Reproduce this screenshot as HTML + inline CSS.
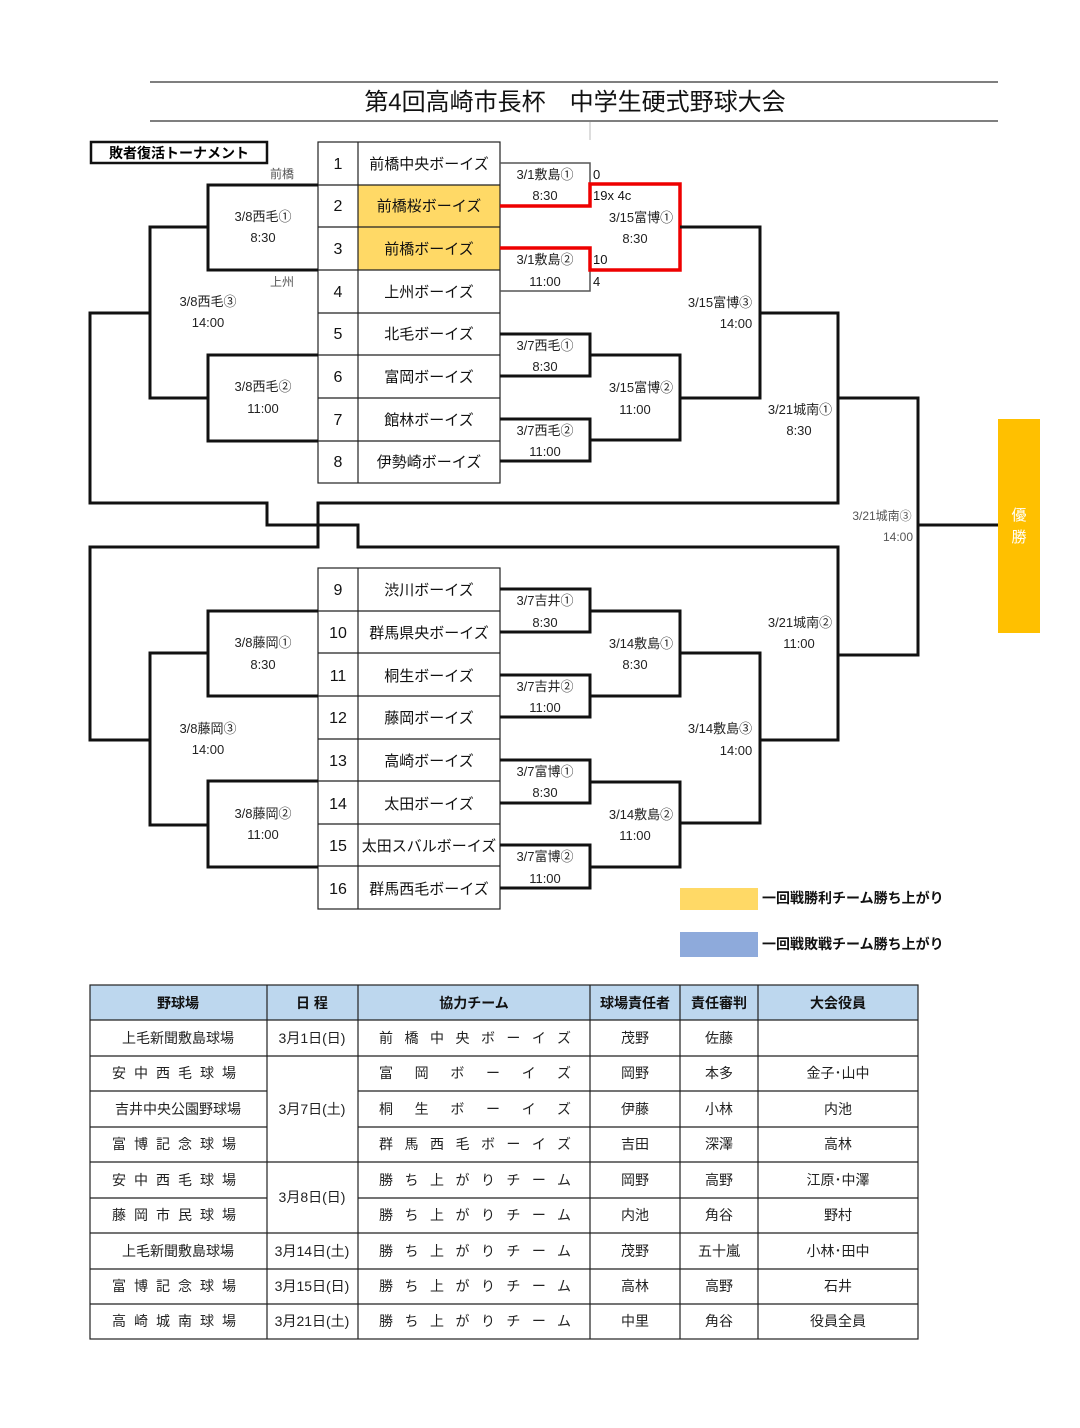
<!DOCTYPE html>
<html><head><meta charset="utf-8"><style>
html,body{margin:0;padding:0;background:#fff;}
svg{display:block;font-family:"Liberation Sans","Noto Sans CJK JP",sans-serif;}
</style></head><body>
<svg width="1080" height="1428" viewBox="0 0 1080 1428" xmlns="http://www.w3.org/2000/svg">
<rect width="1080" height="1428" fill="#fff"/>
<!-- title -->
<line x1="150" y1="82" x2="998" y2="82" stroke="#333" stroke-width="1.2"/>
<line x1="150" y1="121" x2="998" y2="121" stroke="#333" stroke-width="1.2"/>
<line x1="590" y1="122" x2="590" y2="140" stroke="#bbb" stroke-width="1"/>
<text x="575" y="110" font-size="24" text-anchor="middle" fill="#111">第4回高崎市長杯　中学生硬式野球大会</text>
<rect x="91" y="142" width="176" height="21" fill="#fff" stroke="#111" stroke-width="2.5"/>
<text x="179" y="158" font-size="14" font-weight="bold" text-anchor="middle">敗者復活トーナメント</text>

<!-- team table -->
<rect x="358" y="185" width="142" height="85" fill="#ffd966"/>
<g stroke="#222" stroke-width="1.2" fill="none">
<rect x="318" y="142" width="182" height="341"/>
<rect x="318" y="568" width="182" height="341"/>
<line x1="358" y1="142" x2="358" y2="483"/>
<line x1="358" y1="568" x2="358" y2="909"/>
<line x1="318" y1="185" x2="500" y2="185"/><line x1="318" y1="227" x2="500" y2="227"/>
<line x1="318" y1="270" x2="500" y2="270"/><line x1="318" y1="313" x2="500" y2="313"/>
<line x1="318" y1="355" x2="500" y2="355"/><line x1="318" y1="398" x2="500" y2="398"/>
<line x1="318" y1="441" x2="500" y2="441"/>
<line x1="318" y1="611" x2="500" y2="611"/><line x1="318" y1="653" x2="500" y2="653"/>
<line x1="318" y1="696" x2="500" y2="696"/><line x1="318" y1="739" x2="500" y2="739"/>
<line x1="318" y1="781" x2="500" y2="781"/><line x1="318" y1="824" x2="500" y2="824"/>
<line x1="318" y1="866" x2="500" y2="866"/>
</g>
<g font-size="16" text-anchor="middle" fill="#111">
<text x="338" y="169">1</text><text x="338" y="211">2</text><text x="338" y="254">3</text><text x="338" y="297">4</text>
<text x="338" y="339">5</text><text x="338" y="382">6</text><text x="338" y="425">7</text><text x="338" y="467">8</text>
<text x="338" y="595">9</text><text x="338" y="638">10</text><text x="338" y="681">11</text><text x="338" y="723">12</text>
<text x="338" y="766">13</text><text x="338" y="809">14</text><text x="338" y="851">15</text><text x="338" y="894">16</text>
</g>
<g font-size="15" text-anchor="middle" fill="#111">
<text x="429" y="169">前橋中央ボーイズ</text><text x="429" y="211">前橋桜ボーイズ</text><text x="429" y="254">前橋ボーイズ</text><text x="429" y="297">上州ボーイズ</text>
<text x="429" y="339">北毛ボーイズ</text><text x="429" y="382">富岡ボーイズ</text><text x="429" y="425">館林ボーイズ</text><text x="429" y="467">伊勢崎ボーイズ</text>
<text x="429" y="595">渋川ボーイズ</text><text x="429" y="638">群馬県央ボーイズ</text><text x="429" y="681">桐生ボーイズ</text><text x="429" y="723">藤岡ボーイズ</text>
<text x="429" y="766">高崎ボーイズ</text><text x="429" y="809">太田ボーイズ</text><text x="429" y="851">太田スバルボーイズ</text><text x="429" y="894">群馬西毛ボーイズ</text>
</g>

<!-- thin gray 3/1 brackets -->
<g stroke="#555" stroke-width="1.5" fill="none">
<polyline points="500,163 590,163 590,184"/>
<polyline points="590,270 590,291 500,291"/>
</g>
<!-- red -->
<g stroke="#e00" stroke-width="3.5" fill="none">
<polyline points="500,206 590,206 590,184 680,184 680,270 590,270 590,248 500,248"/>
</g>
<!-- black brackets -->
<g stroke="#111" stroke-width="3" fill="none">
<polyline points="680,227 760,227 760,398 680,398"/>
<polyline points="500,334 590,334 590,376 500,376"/>
<polyline points="500,419 590,419 590,461 500,461"/>
<polyline points="590,355 680,355 680,440 590,440"/>
<polyline points="760,313 838,313 838,503 318,503 318,547 90,547 90,740 150,740"/>
<polyline points="838,398 918,398 918,655 838,655"/>
<line x1="918" y1="525" x2="998" y2="525"/>
<polyline points="150,313 90,313 90,503 267,503 267,525 358,525 358,547 838,547 838,740 760,740"/>
<!-- left top -->
<polyline points="318,185 208,185 208,270 318,270"/>
<polyline points="318,355 208,355 208,441 318,441"/>
<polyline points="208,227 150,227 150,398 208,398"/>
<!-- bottom right -->
<polyline points="500,589 590,589 590,632 500,632"/>
<polyline points="500,675 590,675 590,717 500,717"/>
<polyline points="590,611 680,611 680,696 590,696"/>
<polyline points="500,760 590,760 590,803 500,803"/>
<polyline points="500,845 590,845 590,888 500,888"/>
<polyline points="590,782 680,782 680,867 590,867"/>
<polyline points="680,653 760,653 760,823 680,823"/>
<!-- bottom left -->
<polyline points="318,611 208,611 208,696 318,696"/>
<polyline points="318,781 208,781 208,867 318,867"/>
<polyline points="208,653 150,653 150,825 208,825"/>
</g>
<rect x="998" y="419" width="42" height="214" fill="#ffc000"/>
<text x="1019" y="520" font-size="15" text-anchor="middle" fill="#fff">優</text>
<text x="1019" y="542" font-size="15" text-anchor="middle" fill="#fff">勝</text>

<!-- labels -->
<g font-size="13" text-anchor="middle" fill="#222">
<text x="545" y="179">3/1敷島①</text><text x="545" y="200">8:30</text>
<text x="545" y="264">3/1敷島②</text><text x="545" y="286">11:00</text>
<text x="641" y="222">3/15富博①</text><text x="635" y="243">8:30</text>
<text x="720" y="307">3/15富博③</text><text x="736" y="328">14:00</text>
<text x="545" y="350">3/7西毛①</text><text x="545" y="371">8:30</text>
<text x="545" y="435">3/7西毛②</text><text x="545" y="456">11:00</text>
<text x="641" y="392">3/15富博②</text><text x="635" y="414">11:00</text>
<text x="800" y="414">3/21城南①</text><text x="799" y="435">8:30</text>
<text x="263" y="221">3/8西毛①</text><text x="263" y="242">8:30</text>
<text x="208" y="306">3/8西毛③</text><text x="208" y="327">14:00</text>
<text x="263" y="391">3/8西毛②</text><text x="263" y="413">11:00</text>
<text x="545" y="605">3/7吉井①</text><text x="545" y="627">8:30</text>
<text x="545" y="691">3/7吉井②</text><text x="545" y="712">11:00</text>
<text x="641" y="648">3/14敷島①</text><text x="635" y="669">8:30</text>
<text x="720" y="733">3/14敷島③</text><text x="736" y="755">14:00</text>
<text x="545" y="776">3/7富博①</text><text x="545" y="797">8:30</text>
<text x="545" y="861">3/7富博②</text><text x="545" y="883">11:00</text>
<text x="641" y="819">3/14敷島②</text><text x="635" y="840">11:00</text>
<text x="800" y="627">3/21城南②</text><text x="799" y="648">11:00</text>
<text x="263" y="647">3/8藤岡①</text><text x="263" y="669">8:30</text>
<text x="208" y="733">3/8藤岡③</text><text x="208" y="754">14:00</text>
<text x="263" y="818">3/8藤岡②</text><text x="263" y="839">11:00</text>
</g>
<g font-size="12" fill="#555">
<text x="882" y="520" text-anchor="middle">3/21城南③</text>
<text x="898" y="541" text-anchor="middle">14:00</text>
<text x="282" y="178" text-anchor="middle">前橋</text>
<text x="282" y="286" text-anchor="middle">上州</text>
</g>
<g font-size="13" fill="#111">
<text x="593" y="179">0</text><text x="593" y="200">19x 4c</text>
<text x="593" y="264">10</text><text x="593" y="286">4</text>
</g>
<!-- legend -->
<rect x="680" y="888" width="78" height="22" fill="#ffd966"/>
<rect x="680" y="932" width="78" height="25" fill="#8eaadb"/>
<text x="762" y="903" font-size="14" font-weight="bold" fill="#111">一回戦勝利チーム勝ち上がり</text>
<text x="762" y="949" font-size="14" font-weight="bold" fill="#111">一回戦敗戦チーム勝ち上がり</text>

<!-- schedule table -->
<rect x="90" y="985" width="828" height="35" fill="#bdd7ee"/>
<g stroke="#222" stroke-width="1.2" fill="none">
<rect x="90" y="985" width="828" height="354"/>
<line x1="90" y1="1020" x2="918" y2="1020"/>
<line x1="90" y1="1056" x2="918" y2="1056"/>
<line x1="90" y1="1091" x2="267" y2="1091"/><line x1="358" y1="1091" x2="918" y2="1091"/>
<line x1="90" y1="1127" x2="267" y2="1127"/><line x1="358" y1="1127" x2="918" y2="1127"/>
<line x1="90" y1="1162" x2="918" y2="1162"/>
<line x1="90" y1="1198" x2="267" y2="1198"/><line x1="358" y1="1198" x2="918" y2="1198"/>
<line x1="90" y1="1233" x2="918" y2="1233"/>
<line x1="90" y1="1269" x2="918" y2="1269"/>
<line x1="90" y1="1304" x2="918" y2="1304"/>
<line x1="267" y1="985" x2="267" y2="1339"/>
<line x1="358" y1="985" x2="358" y2="1339"/>
<line x1="590" y1="985" x2="590" y2="1339"/>
<line x1="680" y1="985" x2="680" y2="1339"/>
<line x1="758" y1="985" x2="758" y2="1339"/>
</g>
<g font-size="14" font-weight="bold" text-anchor="middle" fill="#111">
<text x="178" y="1008">野球場</text><text x="312" y="1008">日 程</text><text x="474" y="1008">協力チーム</text>
<text x="635" y="1008">球場責任者</text><text x="719" y="1008">責任審判</text><text x="838" y="1008">大会役員</text>
</g>
<g font-size="14" fill="#222">
<g text-anchor="middle">
<text x="178" y="1043">上毛新聞敷島球場</text>
<text x="178" y="1078" letter-spacing="8">安中西毛球場</text>
<text x="178" y="1114">吉井中央公園野球場</text>
<text x="178" y="1149" letter-spacing="8">富博記念球場</text>
<text x="178" y="1185" letter-spacing="8">安中西毛球場</text>
<text x="178" y="1220" letter-spacing="8">藤岡市民球場</text>
<text x="178" y="1256">上毛新聞敷島球場</text>
<text x="178" y="1291" letter-spacing="8">富博記念球場</text>
<text x="178" y="1326" letter-spacing="8">高崎城南球場</text>
<text x="312" y="1043">3月1日(日)</text>
<text x="312" y="1114">3月7日(土)</text>
<text x="312" y="1202">3月8日(日)</text>
<text x="312" y="1256">3月14日(土)</text>
<text x="312" y="1291">3月15日(日)</text>
<text x="312" y="1326">3月21日(土)</text>
</g>
<text x="379" y="1043" textLength="192" lengthAdjust="spacing">前橋中央ボーイズ</text>
<text x="379" y="1078" textLength="192" lengthAdjust="spacing">富岡ボーイズ</text>
<text x="379" y="1114" textLength="192" lengthAdjust="spacing">桐生ボーイズ</text>
<text x="379" y="1149" textLength="192" lengthAdjust="spacing">群馬西毛ボーイズ</text>
<text x="379" y="1185" textLength="192" lengthAdjust="spacing">勝ち上がりチーム</text>
<text x="379" y="1220" textLength="192" lengthAdjust="spacing">勝ち上がりチーム</text>
<text x="379" y="1256" textLength="192" lengthAdjust="spacing">勝ち上がりチーム</text>
<text x="379" y="1291" textLength="192" lengthAdjust="spacing">勝ち上がりチーム</text>
<text x="379" y="1326" textLength="192" lengthAdjust="spacing">勝ち上がりチーム</text>
<g text-anchor="middle">
<text x="635" y="1043">茂野</text><text x="635" y="1078">岡野</text><text x="635" y="1114">伊藤</text><text x="635" y="1149">吉田</text>
<text x="635" y="1185">岡野</text><text x="635" y="1220">内池</text><text x="635" y="1256">茂野</text><text x="635" y="1291">高林</text><text x="635" y="1326">中里</text>
<text x="719" y="1043">佐藤</text><text x="719" y="1078">本多</text><text x="719" y="1114">小林</text><text x="719" y="1149">深澤</text>
<text x="719" y="1185">高野</text><text x="719" y="1220">角谷</text><text x="719" y="1256">五十嵐</text><text x="719" y="1291">高野</text><text x="719" y="1326">角谷</text>
<text x="838" y="1078">金子･山中</text><text x="838" y="1114">内池</text><text x="838" y="1149">高林</text>
<text x="838" y="1185">江原･中澤</text><text x="838" y="1220">野村</text><text x="838" y="1256">小林･田中</text><text x="838" y="1291">石井</text><text x="838" y="1326">役員全員</text>
</g>
</g>
</svg>
</body></html>
